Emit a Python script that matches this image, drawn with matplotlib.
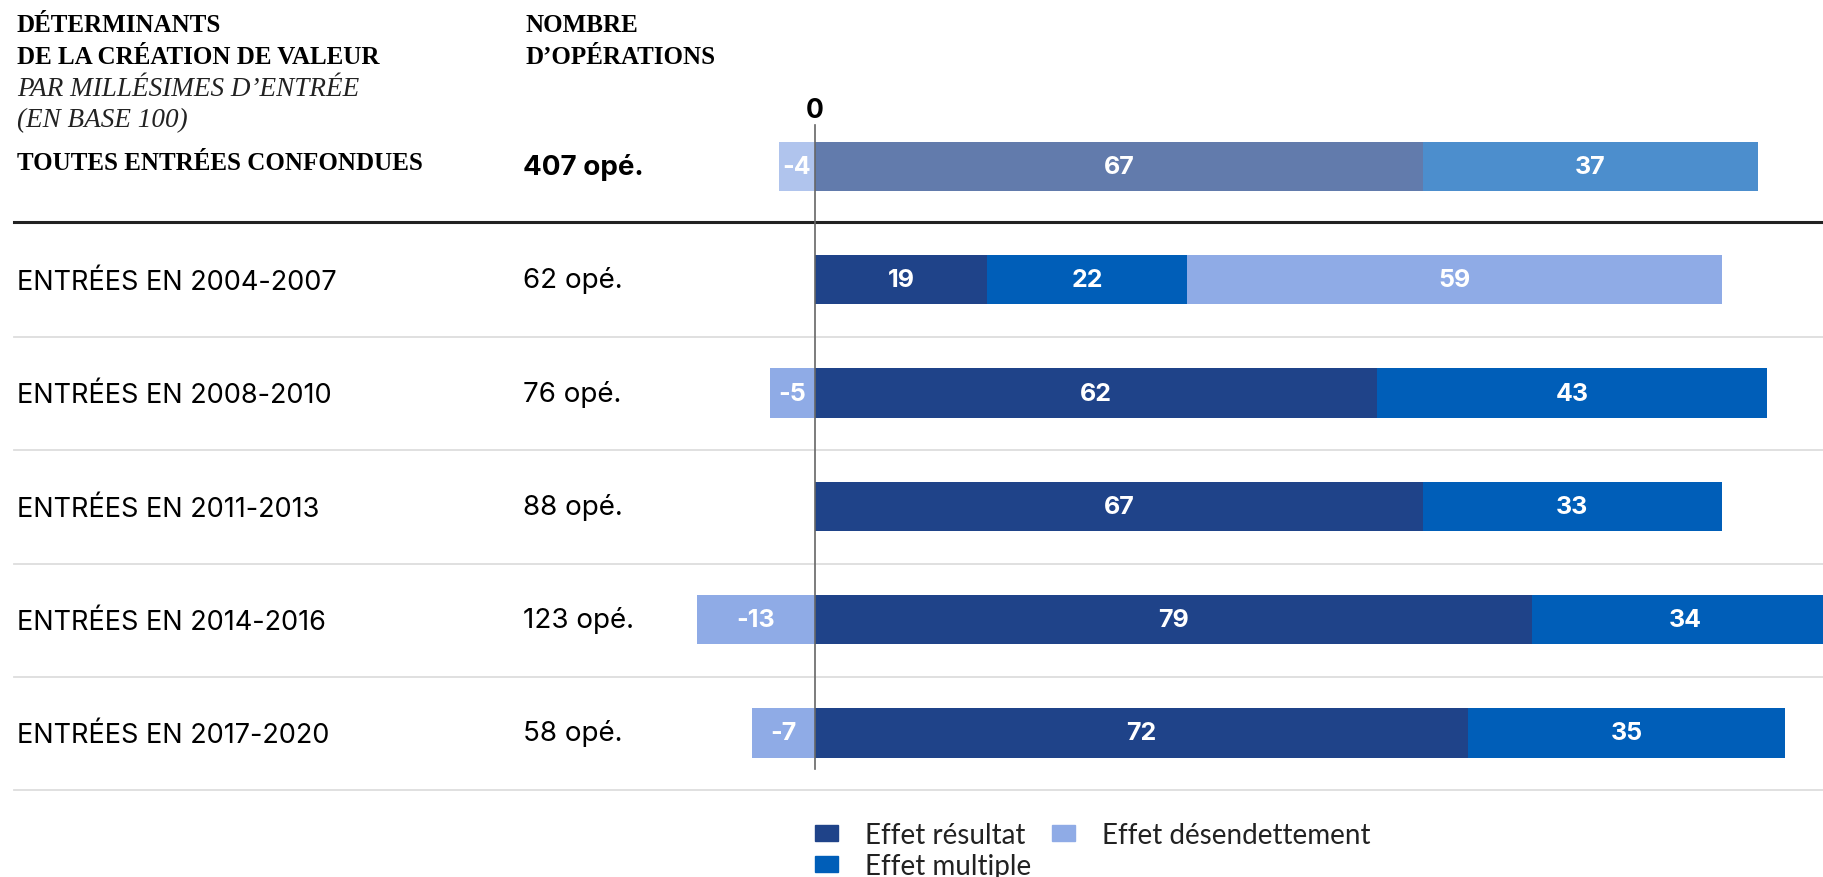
import matplotlib.pyplot as plt
from matplotlib.patches import Patch
from matplotlib.transforms import blended_transform_factory

# decomposition of value creation, in base 100
rows = ["TOUTES ENTRÉES CONFONDUES", "ENTRÉES EN 2004-2007", "ENTRÉES EN 2008-2010",
        "ENTRÉES EN 2011-2013", "ENTRÉES EN 2014-2016", "ENTRÉES EN 2017-2020"]
deals = ["407 opé.", "62 opé.", "76 opé.", "88 opé.", "123 opé.", "58 opé."]
effet_resultat = [67, 19, 62, 67, 79, 72]
effet_multiple = [37, 22, 43, 33, 34, 35]
effet_desendettement = [-4, 59, -5, 0, -13, -7]

c_res = "#1F4389"
c_mul = "#005EB8"
c_des = "#8FABE6"

W, H = 1824, 878
fig = plt.figure(figsize=(W / 100, H / 100), dpi=100)
ax = fig.add_axes([0, 0, 1, 1])
ax.set_xlim(-815 / 9.07, (W - 815) / 9.07)
ax.set_ylim((H - 167.5) / 113.3, -167.5 / 113.3)
ax.axis("off")

sans = ["Inter", "DejaVu Sans"]
serif = ["Liberation Serif", "DejaVu Serif"]
bh = 0.435

for i in range(len(rows)):
    alpha = 0.7 if i == 0 else 1.0
    r, m, d = effet_resultat[i], effet_multiple[i], effet_desendettement[i]
    ax.barh(i, r, left=0, height=bh, color=c_res, alpha=alpha, lw=0)
    ax.barh(i, m, left=r, height=bh, color=c_mul, alpha=alpha, lw=0)
    d_left = r + m if d > 0 else d
    if d != 0:
        ax.barh(i, abs(d), left=d_left, height=bh, color=c_des, alpha=alpha, lw=0)
    # values centred in each segment
    for v, x0 in [(r, 0), (m, r), (d, d_left)]:
        if v == 0:
            continue
        ax.text(x0 + abs(v) / 2, i, f"{v}", color="white", ha="center", va="center",
                fontsize=18, fontweight="bold", family=sans)

# separators
ax.axhline(0.49, xmin=14 / W, xmax=1, color="#222222", lw=2.2)
for k in range(1, 6):
    ax.axhline(k + 0.505, xmin=14 / W, xmax=1, color="#DDDDDD", lw=1.3)

# zero line
ax.plot([0, 0], [-0.366, 5.32], color="#666666", lw=1.2, zorder=5)
ax.text(0, -0.50, "0", ha="center", va="center", fontsize=19, fontweight="bold", family=sans)

# row labels and deal counts
blend = blended_transform_factory(fig.transFigure, ax.transData)
for i in range(1, len(rows)):
    ax.text(17 / W, i + 0.02, rows[i], transform=blend, ha="left", va="center",
            fontsize=19.5, family=sans)
for i in range(len(deals)):
    ax.text(523 / W, i, deals[i], transform=blend, ha="left", va="center",
            fontsize=20, family=sans, fontweight="bold" if i == 0 else "normal")


# header block
def fy(px):
    return 1 - px / H


hdr = dict(fontsize=18, fontweight="bold", family=serif, va="center")
ital = dict(fontsize=19.5, style="italic", family=serif, va="center", color="#222222")
fig.text(17 / W, fy(25.5), "DÉTERMINANTS", **hdr)
fig.text(17 / W, fy(57), "DE LA CRÉATION DE VALEUR", **hdr)
fig.text(17 / W, fy(89), "PAR MILLÉSIMES D’ENTRÉE", **ital)
fig.text(17 / W, fy(121), "(EN BASE 100)", **ital)
fig.text(17 / W, fy(164), rows[0], **hdr)
fig.text(525 / W, fy(25.5), "NOMBRE", **hdr)
fig.text(525 / W, fy(57), "D’OPÉRATIONS", **hdr)

handles = [Patch(color=c_res, label="Effet résultat"),
           Patch(color=c_mul, label="Effet multiple"),
           Patch(color=c_des, label="Effet désendettement")]
fig.legend(handles=handles, ncol=2, loc="upper left", bbox_to_anchor=(815 / W, fy(823)),
           frameon=False, labelcolor="#222222",
           prop={"family": ["Lato", "DejaVu Sans"], "size": 20},
           handlelength=0.83, handleheight=0.54, handletextpad=0.97, columnspacing=0.75,
           labelspacing=0.18, borderaxespad=0, borderpad=0)

fig.savefig("out.png", dpi=100)
